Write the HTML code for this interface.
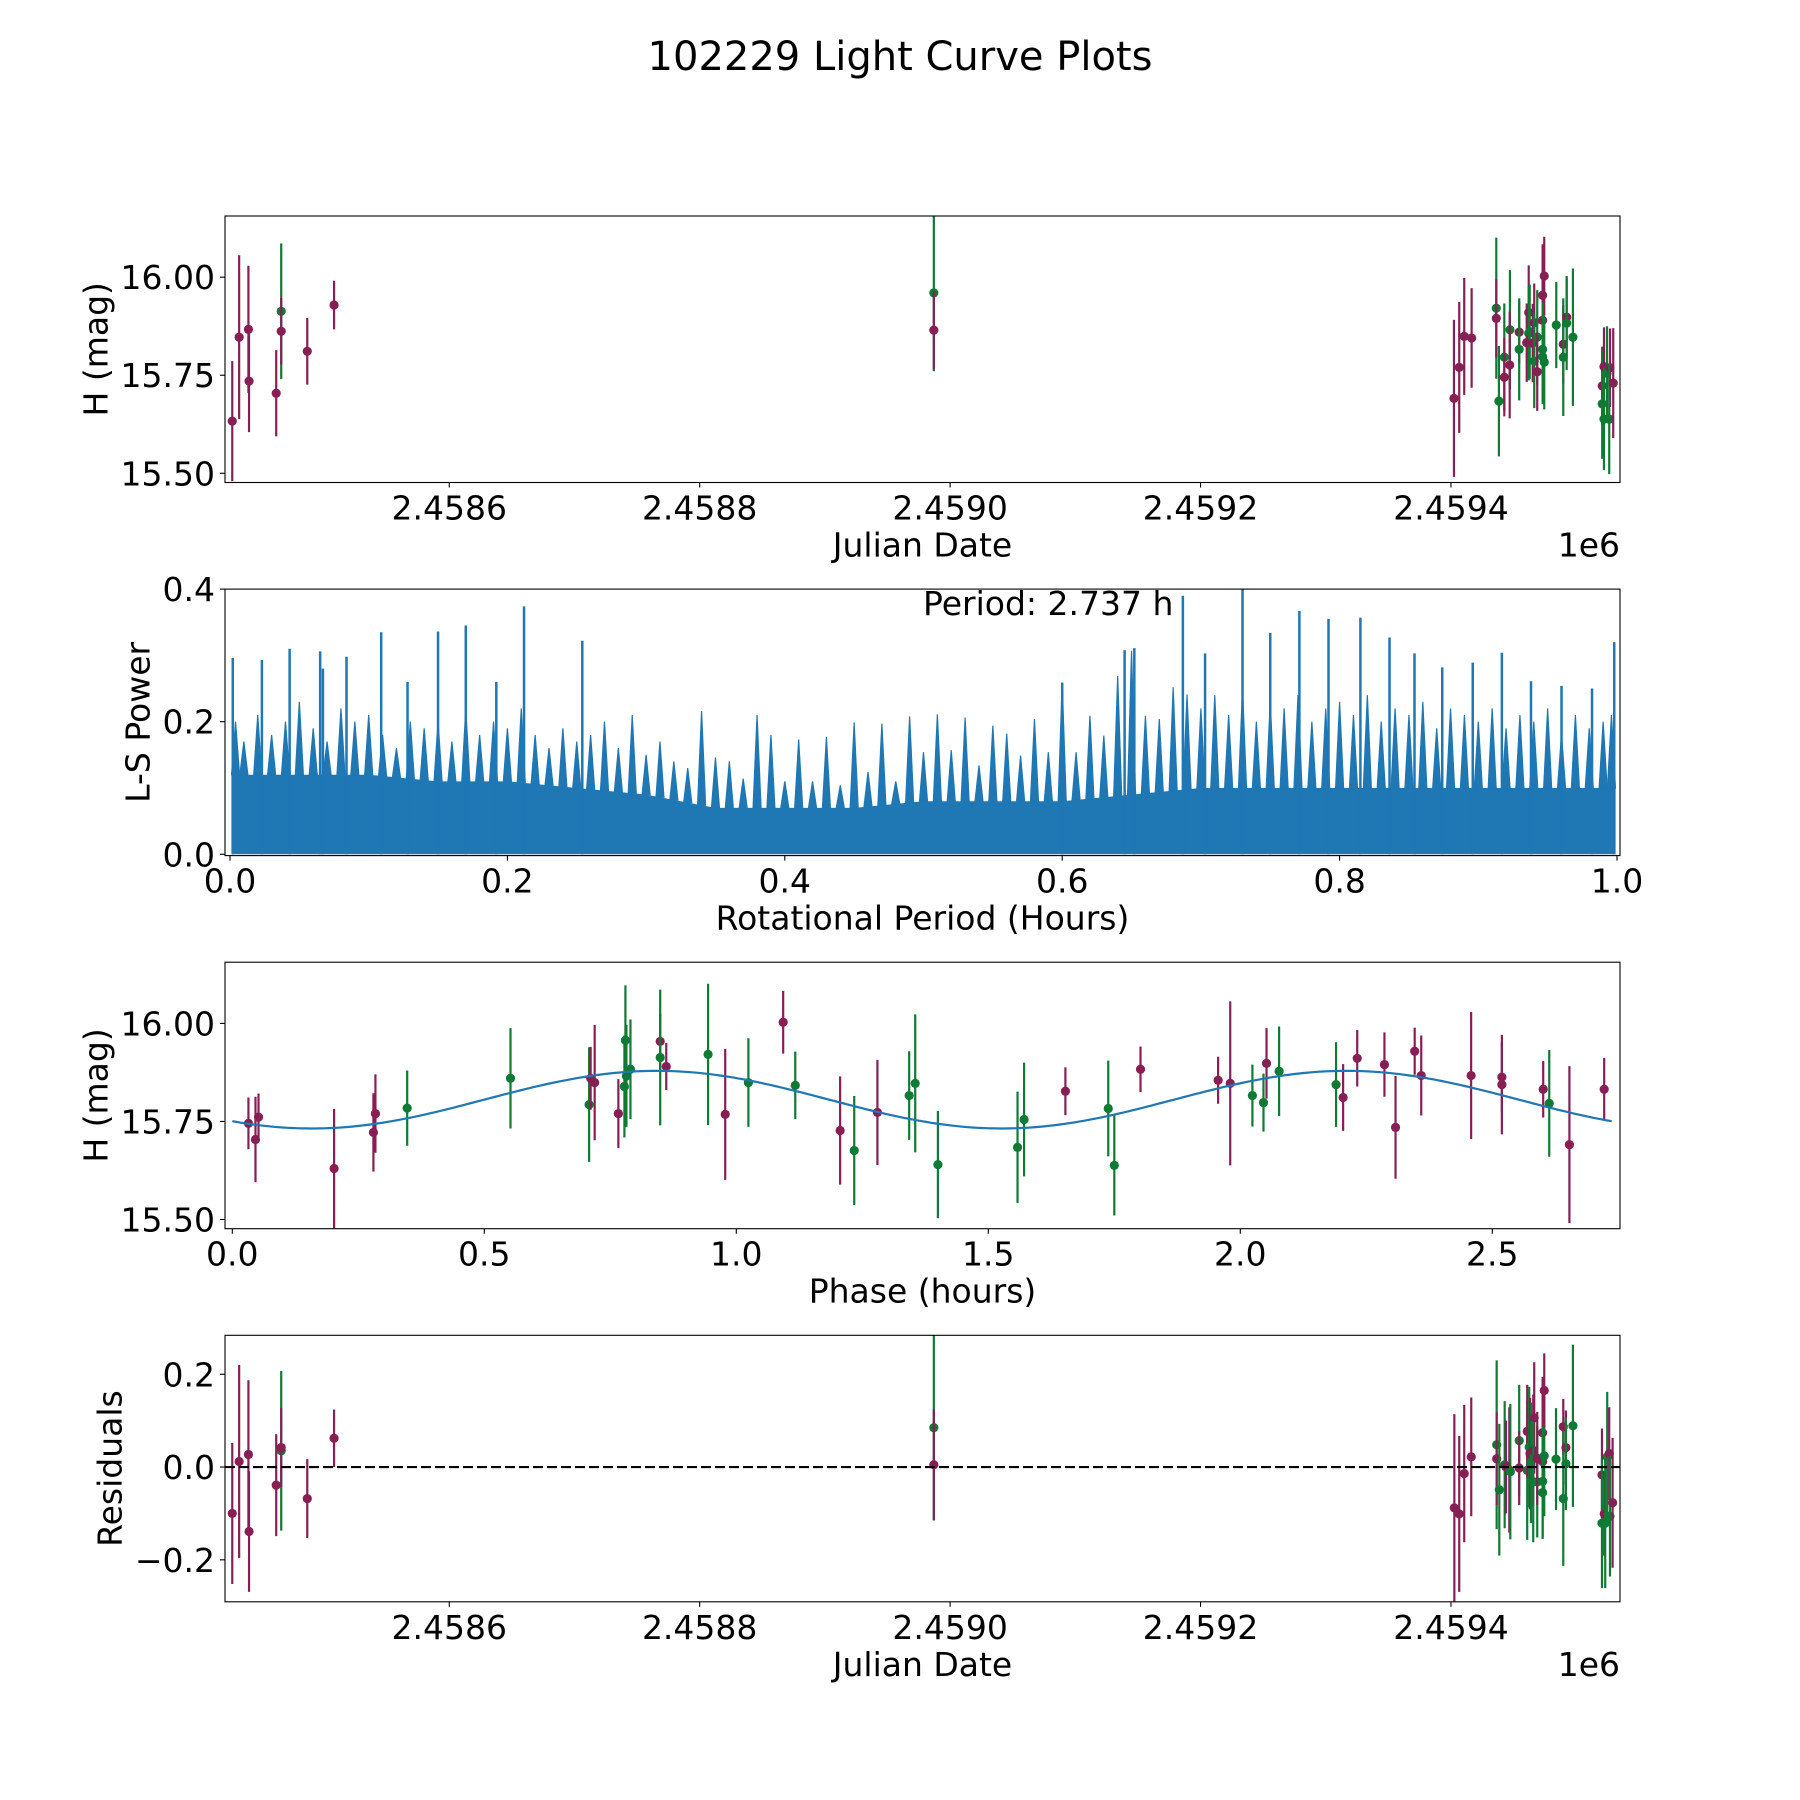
<!DOCTYPE html>
<html><head><meta charset="utf-8"><style>
html,body{margin:0;padding:0;background:#fff;}
svg{display:block;font-family:"DejaVu Sans","Liberation Sans",sans-serif;}
</style></head><body>
<svg id="fig" width="1800" height="1800" viewBox="0 0 1800 1800" xmlns="http://www.w3.org/2000/svg">
<rect width="1800" height="1800" fill="#fff"/>
<text x="900" y="70" text-anchor="middle" font-size="40">102229 Light Curve Plots</text>
</svg>
<script>
// ---------- data ----------
const lcJD = [2458426.7,2458432.2,2458439.6,2458440.1,2458461.8,2458465.8,2458465.8,2458486.6,2458508.0,2458987.0,2458987.0,
2459402.4,2459406.6,2459410.6,2459416.5,2459436.2,2459436.2,2459438.3,2459442.6,2459442.6,2459447.1,2459446.9,2459454.5,2459454.5,2459462.1,2459462.1,2459460.5,2459462.9,2459465.3,2459466.5,2459466.5,2459468.9,2459468.9,2459473.2,2459474.5,2459473.2,2459473.2,2459473.2,2459474.5,2459484.1,2459489.7,2459489.7,2459492.4,2459492.4,2459497.4,2459520.8,2459520.8,2459522.2,2459524.6,2459527.0,2459522.2,2459526.4,2459529.6];
const lcMag = [15.633,15.847,15.867,15.735,15.704,15.913,15.862,15.811,15.929,15.96,15.865,
15.691,15.770,15.849,15.845,15.921,15.895,15.684,15.796,15.745,15.866,15.776,15.86,15.816,15.91,15.857,15.833,15.861,15.832,15.884,15.786,15.847,15.759,15.954,16.003,15.890,15.816,15.797,15.783,15.878,15.829,15.796,15.898,15.883,15.847,15.723,15.677,15.772,15.755,15.769,15.638,15.638,15.73];
const lcErr = [0.153,0.209,0.162,0.13,0.11,0.173,0.085,0.085,0.062,0.2,0.1,
0.20,0.167,0.149,0.127,0.18,0.1,0.141,0.137,0.1,0.152,0.136,0.08,0.13,0.12,0.12,0.1,0.12,0.1,0.1,0.12,0.12,0.1,0.13,0.1,0.1,0.12,0.12,0.12,0.11,0.1,0.15,0.1,0.12,0.175,0.1,0.14,0.1,0.12,0.1,0.13,0.14,0.14];
const lcBand = ["m","m","m","m","m","g","m","m","m","g","m",
"m","m","m","m","g","m","g","g","m","g","m","m","g","m","g","m","g","m","m","g","g","m","m","m","m","g","g","g","g","m","g","m","g","g","m","g","m","g","m","g","g","m"];

const phHours = [0.032,0.046,0.052,0.202,0.280,0.284,0.347,0.552,0.708,0.711,0.719,0.766,0.778,0.780,0.782,0.790,0.849,0.849,0.861,0.944,0.978,1.024,1.093,1.117,1.206,1.234,1.280,1.343,1.355,1.400,1.558,1.571,1.653,1.738,1.750,1.802,1.956,1.980,2.024,2.046,2.052,2.077,2.190,2.204,2.232,2.286,2.308,2.346,2.359,2.458,2.519,2.519,2.601,2.613,2.653,2.722];
const phMag = [15.745,15.704,15.761,15.630,15.722,15.770,15.784,15.860,15.793,15.860,15.849,15.770,15.839,15.957,15.866,15.883,15.954,15.913,15.890,15.921,15.768,15.849,16.003,15.842,15.727,15.676,15.773,15.816,15.847,15.640,15.684,15.755,15.827,15.783,15.638,15.883,15.855,15.847,15.816,15.798,15.898,15.878,15.844,15.811,15.911,15.895,15.735,15.929,15.867,15.867,15.863,15.844,15.832,15.796,15.691,15.832];
const phErr = [0.066,0.109,0.06,0.152,0.10,0.10,0.096,0.128,0.146,0.08,0.147,0.088,0.13,0.14,0.13,0.127,0.07,0.173,0.06,0.18,0.167,0.113,0.08,0.086,0.138,0.139,0.134,0.113,0.176,0.137,0.142,0.145,0.061,0.122,0.128,0.058,0.06,0.209,0.079,0.074,0.09,0.114,0.108,0.085,0.072,0.082,0.131,0.06,0.102,0.162,0.09,0.127,0.072,0.136,0.2,0.08];
const phBand = ["m","m","m","m","m","m","g","g","g","m","m","m","g","g","g","g","m","g","m","g","m","g","m","g","m","g","m","g","g","g","g","g","m","g","g","m","m","m","g","g","m","g","g","m","m","m","m","m","m","m","m","m","m","g","m","m"];
// fitted model (double-peaked sinusoid)
const fitMean = [15.8055];
const fitAmp = [0.0735];
const fitPeriod = [2.737];
const fitPhase0 = [0.5];

const resJD = [2458426.7,2458432.2,2458439.6,2458440.1,2458461.8,2458465.8,2458465.8,2458486.6,2458508.0,2458987.0,2458987.0,
2459402.7,2459406.6,2459410.6,2459416.2,2459436.5,2459436.5,2459438.6,2459442.9,2459443.9,2459446.6,2459447.4,2459454.5,2459454.5,2459460.9,2459460.9,2459462.5,2459463.1,2459463.9,2459465.7,2459466.5,2459465.7,2459468.9,2459468.9,2459473.2,2459473.2,2459473.2,2459473.2,2459474.5,2459474.5,2459483.9,2459489.7,2459489.7,2459491.8,2459491.8,2459497.4,2459520.6,2459520.6,2459522.4,2459523.2,2459524.8,2459526.4,2459527.0,2459529.1];
const resVal = [-0.100,0.012,0.027,-0.139,-0.039,0.035,0.042,-0.068,0.062,0.085,0.005,
-0.088,-0.101,-0.014,0.022,0.048,0.018,-0.049,0.005,0.0,-0.006,-0.010,0.057,-0.002,-0.007,0.077,0.043,0.029,0.009,0.036,0.106,-0.032,-0.032,0.019,0.074,0.012,-0.031,-0.055,0.024,0.165,0.017,0.087,-0.068,0.042,0.007,0.089,-0.017,-0.121,-0.101,-0.121,0.022,0.029,-0.106,-0.077];
const resErr = [0.152,0.208,0.16,0.13,0.11,0.172,0.085,0.085,0.062,0.2,0.12,
0.202,0.168,0.148,0.128,0.182,0.1,0.142,0.137,0.1,0.135,0.146,0.12,0.08,0.15,0.1,0.13,0.12,0.13,0.12,0.12,0.13,0.12,0.1,0.12,0.1,0.12,0.1,0.13,0.08,0.11,0.06,0.145,0.08,0.1,0.175,0.1,0.14,0.09,0.14,0.14,0.1,0.13,0.14];
const resBand = ["m","m","m","m","m","g","m","m","m","g","m",
"m","m","m","m","g","m","g","g","m","m","g","g","m","g","m","g","m","g","m","m","g","g","m","m","m","g","g","g","m","g","m","g","m","g","g","m","g","m","g","g","m","g","m"];

// periodogram
const lsPeakPeriod = [0.002,0.023,0.043,0.065,0.067,0.084,0.109,0.128,0.150,0.170,0.192,0.212,0.254,0.600,0.645,0.652,0.687,0.703,0.730,0.750,0.771,0.792,0.815,0.836,0.854,0.874,0.896,0.917,0.938,0.960,0.982,0.998];
const lsPeakPower = [0.296,0.293,0.310,0.306,0.28,0.298,0.335,0.26,0.336,0.345,0.26,0.374,0.322,0.259,0.308,0.311,0.39,0.303,0.40,0.334,0.367,0.355,0.357,0.327,0.303,0.282,0.289,0.304,0.261,0.254,0.25,0.32];
const lsMid = [0.20,0.17,0.21,0.18,0.20,0.23,0.19,0.17,0.22,0.20,0.21,0.18,0.16,0.20,0.19,0.20,0.17,0.22,0.18,0.20,0.19,0.22,0.18,0.16,0.19,0.17,
0.18,0.20,0.16,0.21,0.15,0.17,0.14,0.13,0.216,0.146,0.14,0.114,0.21,0.18,0.11,0.173,0.11,0.177,0.104,0.199,0.124,0.197,0.11,0.208,0.154,0.211,0.157,0.206,0.134,0.194,0.182,0.149,0.204,0.154,0.259,0.154,0.209,0.179,0.269,0.307,0.209,0.204,0.252,0.241,
0.22,0.24,0.21,0.25,0.2,0.23,0.22,0.24,0.2,0.22,0.23,0.21,0.24,0.2,0.22,0.21,0.23,0.19,0.22,0.21,0.2,0.22,0.19,0.21,0.2,0.22,0.18,0.21,0.19,0.2,0.21];
const lsCore = [0.12,0.12,0.12,0.11,0.11,0.10,0.09,0.07,0.07,0.07,0.08,0.08,0.08,0.09,0.10,0.10,0.10,0.10,0.10,0.10,0.10];

const jdTicks = [2458600,2458800,2459000,2459200,2459400];
const jdTickLabels = ["2.4586","2.4588","2.4590","2.4592","2.4594"];
const magTicks = [15.5,15.75,16.0];
const magTickLabels = ["15.50","15.75","16.00"];
const lsXTicks = [0,0.2,0.4,0.6,0.8,1.0];
const lsXTickLabels = ["0.0","0.2","0.4","0.6","0.8","1.0"];
const lsYTicks = [0,0.2,0.4];
const lsYTickLabels = ["0.0","0.2","0.4"];
const phTicks = [0,0.5,1.0,1.5,2.0,2.5];
const phTickLabels = ["0.0","0.5","1.0","1.5","2.0","2.5"];
const resTicks = [-0.2,0,0.2];
const resTickLabels = ["\u22120.2","0.0","0.2"];

// ---------- drawing ----------
const NS = "http://www.w3.org/2000/svg";
const svg = document.getElementById('fig');
const COL = {m:"#871f55", g:"#0f7a33"};
const L = 225, R = 1620;
function mk(tag, attrs, parent){
  const e = document.createElementNS(NS, tag);
  for (const k in attrs) e.setAttribute(k, attrs[k]);
  (parent||svg).appendChild(e);
  return e;
}
function lin(d0,d1,r0,r1){ return v => r0 + (v-d0)*(r1-r0)/(d1-d0); }

function axes(name, top, bot, sx, sy, xt, xtl, yt, ytl, xlabel, ylabel, ylabX){
  const g = mk('g', {});
  
  
  xt.forEach((v,i)=>{
    const x = sx(v);
    const t = mk('line',{x1:x,x2:x,y1:bot,y2:bot+5,stroke:'#000','stroke-width':1.1},g);
    
    
    const tx = mk('text',{x:x,y:bot+37,'text-anchor':'middle','font-size':33},g);
    tx.textContent = xtl[i];
    
    
  });
  yt.forEach((v,i)=>{
    const y = sy(v);
    const t = mk('line',{x1:L-5,x2:L,y1:y,y2:y,stroke:'#000','stroke-width':1.1},g);
    
    
    const tx = mk('text',{x:L-10,y:y+12,'text-anchor':'end','font-size':33},g);
    tx.textContent = ytl[i];
    
    
  });
  const xl = mk('text',{x:(L+R)/2,y:bot+74,'text-anchor':'middle','font-size':33},g);
  xl.textContent = xlabel;
  
  
  const cy = (top+bot)/2;
  const yl = mk('text',{x:ylabX,y:cy,'text-anchor':'middle','dominant-baseline':'central','font-size':33,transform:`rotate(-90 ${ylabX} ${cy})`},g);
  yl.textContent = ylabel;
  
  
  return g;
}
function frame(top,bot){
  const r = mk('rect',{x:L,y:top,width:R-L,height:bot-top,fill:'none',stroke:'#000','stroke-width':1.1});
  
  
}
function clip(id,top,bot){
  const c = mk('clipPath',{id:id});
  mk('rect',{x:L,y:top,width:R-L,height:bot-top},c);
}
function errPoints(name, xs, ys, es, bs, sx, sy, clipId){
  const g = mk('g',{'clip-path':`url(#${clipId})`});
  
  
  xs.forEach((xv,i)=>{
    const x = sx(xv), c = COL[bs[i]];
    const l = mk('line',{x1:x,x2:x,y1:sy(ys[i]-es[i]),y2:sy(ys[i]+es[i]),stroke:c,'stroke-width':2.2},g);
    
    
    const p = mk('circle',{cx:x,cy:sy(ys[i]),r:4.6,fill:c},g);
    
    
  });
}

// Panel 1: light curve
{
  const top=216, bot=482.5;
  const sx = lin(2458420.9,2459535.0,L,R);
  const sy = lin(15.4765,16.156,bot,top);
  clip('c1',top,bot);
  axes('light-curve-axes',top,bot,sx,sy,jdTicks,jdTickLabels,magTicks,magTickLabels,'Julian Date','H (mag)',96);
  errPoints('light-curve-points',lcJD,lcMag,lcErr,lcBand,sx,sy,'c1');
  frame(top,bot);
  const o = mk('text',{x:R,y:bot+74,'text-anchor':'end','font-size':33});
  o.textContent='1e6';
  
  
}
// Panel 2: periodogram
{
  const top=589.1, bot=855.6;
  const sx = lin(0,1,230,1617);
  const sy = lin(-0.002,0.4,bot,top);
  clip('c2',top,bot);
  axes('periodogram-axes',top,bot,sx,sy,lsXTicks,lsXTickLabels,lsYTicks,lsYTickLabels,'Rotational Period (Hours)','L-S Power',138);
  const g = mk('g',{'clip-path':'url(#c2)'});
  
  
  const coreAt = p => { const f=p/0.05, i=Math.min(Math.floor(f),lsCore.length-2), t=f-i; return lsCore[i]*(1-t)+lsCore[i+1]*t; };
  const pMin = 0.001, pMax = 0.999;
  let d = `M${sx(pMin)},${sy(0)}`;
  lsCore.forEach((v,i)=>{ d += ` L${sx(Math.min(Math.max(i*0.05,pMin),pMax))},${sy(v)}`; });
  d += ` L${sx(pMax)},${sy(0)} Z`;
  const core = mk('path',{d:d,fill:'#1f77b4'},g);
  
  
  lsMid.forEach((v,i)=>{
    const p = Math.min(Math.max(i*0.01,0.004),0.996);
    const x = sx(p), b = sy(coreAt(p));
    const xl = Math.max(x-4, sx(pMin)), xr = Math.min(x+4, sx(pMax));
    const s = mk('path',{d:`M${xl},${b} L${x},${sy(v)} L${xr},${b} Z`,fill:'#1f77b4',stroke:'#1f77b4','stroke-width':1.2},g);
    
    
  });
  lsPeakPeriod.forEach((p,i)=>{
    const x = sx(p);
    const s = mk('line',{x1:x,x2:x,y1:sy(0),y2:sy(lsPeakPower[i]),stroke:'#1f77b4','stroke-width':2.5},g);
    
    
  });
  frame(top,bot);
  const t = mk('text',{x:923,y:615,'font-size':33});
  t.textContent='Period: 2.737 h';
  
  
}
// Panel 3: phased light curve
{
  const top=962.2, bot=1228.7;
  const sx = lin(0,1,232.3,736.3);
  const sy = lin(15.4765,16.156,bot,top);
  clip('c3',top,bot);
  axes('phase-axes',top,bot,sx,sy,phTicks,phTickLabels,magTicks,magTickLabels,'Phase (hours)','H (mag)',96);
  errPoints('phase-points',phHours,phMag,phErr,phBand,sx,sy,'c3');
  let d='';
  const P=fitPeriod[0];
  for(let k=0;k<=300;k++){
    const p = P*k/300;
    const m = fitMean[0] + fitAmp[0]*Math.sin(2*Math.PI*2*(p-fitPhase0[0])/P);
    d += (k?' L':'M')+sx(p).toFixed(1)+','+sy(m).toFixed(1);
  }
  const fl = mk('path',{d:d,fill:'none',stroke:'#1f77b4','stroke-width':2.2});
  
  
  frame(top,bot);
}
// Panel 4: residuals
{
  const top=1335.3, bot=1601.8;
  const sx = lin(2458420.9,2459535.0,L,R);
  const sy = lin(-0.2905,0.284,bot,top);
  clip('c4',top,bot);
  axes('residuals-axes',top,bot,sx,sy,jdTicks,jdTickLabels,resTicks,resTickLabels,'Julian Date','Residuals',110);
  errPoints('residual-points',resJD,resVal,resErr,resBand,sx,sy,'c4');
  const z = mk('line',{x1:L,x2:R,y1:sy(0),y2:sy(0),stroke:'#000','stroke-width':2.2,'stroke-dasharray':'10 4'});
  
  
  frame(top,bot);
  const o = mk('text',{x:R,y:bot+74,'text-anchor':'end','font-size':33});
  o.textContent='1e6';
  
  
}
</script>
</body></html>
